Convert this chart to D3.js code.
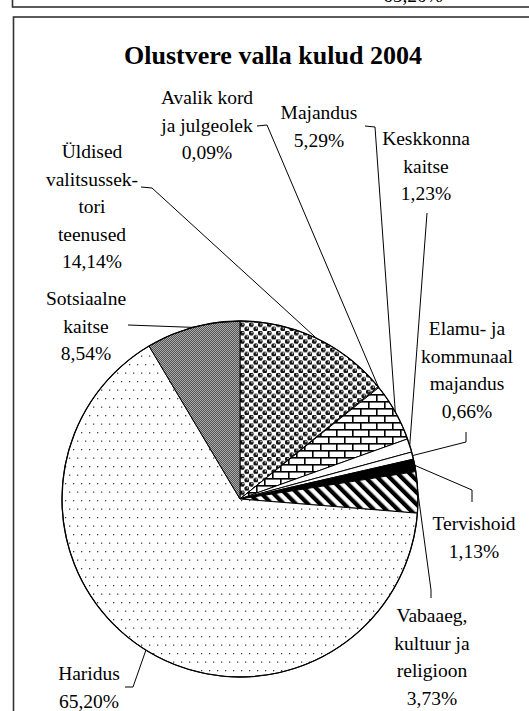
<!DOCTYPE html>
<html>
<head>
<meta charset="utf-8">
<script src="https://cdn.jsdelivr.net/npm/d3@7.9.0/dist/d3.min.js"></script>
<style>
  body { margin: 0; background: #fff; }
  svg { display: block; }
</style>
</head>
<body>
<svg id="chart" width="529" height="711"></svg>
<script>
const title = "Olustvere valla kulud 2004";
const categories = [
  "Üldised valitsussektori teenused", "Avalik kord ja julgeolek", "Majandus",
  "Keskkonna kaitse", "Elamu- ja kommunaalmajandus", "Tervishoid",
  "Vabaaeg, kultuur ja religioon", "Haridus", "Sotsiaalne kaitse"
];
const shares = [14.14, 0.09, 5.29, 1.23, 0.66, 1.13, 3.73, 65.20, 8.54];
const labelLines = [
  ["Üldised", "valitsussek-", "tori", "teenused"],
  ["Avalik kord", "ja julgeolek"],
  ["Majandus"],
  ["Keskkonna", "kaitse"],
  ["Elamu- ja", "kommunaal", "majandus"],
  ["Tervishoid"],
  ["Vabaaeg,", "kultuur ja", "religioon"],
  ["Haridus"],
  ["Sotsiaalne", "kaitse"]
];
// text cut off at the top edge, from the chart above this one
const prevChartTail = "65,20%";

// layout
const font = "'Liberation Serif', 'Times New Roman', Times, 'DejaVu Serif', serif";
const cx = 240, cy = 499, radius = 178;
const lineH = 27.6;
const labelAt = [
  { x: 92, y: 158, leader: [[141, 187], [152, 188]] },
  { x: 207, y: 104, leader: [[257, 126], [267, 125]] },
  { x: 319, y: 119, leader: [[365, 126], [375, 127]] },
  { x: 426, y: 145, leader: [[427, 213]] },
  { x: 467, y: 335, leader: [[466, 432], [466, 442]] },
  { x: 474, y: 530, leader: [[472, 502], [472, 490]] },
  { x: 432, y: 622, leader: [[431, 598], [431, 590]] },
  { x: 89, y: 680, leader: [[125, 687], [133, 687]] },
  { x: 86, y: 305, leader: [[128, 325]] }
];
const fills = ["url(#circ)", "#fff", "url(#brick)", "#fff", "#fff", "#000",
               "url(#stripe)", "url(#dots)", "url(#grey)"];

const svg = d3.select("#chart");
svg.append("rect").attr("width", 529).attr("height", 711).attr("fill", "#fff");

const defs = svg.append("defs");

// circles on white
let p = defs.append("pattern").attr("id", "circ").attr("patternUnits", "userSpaceOnUse")
  .attr("width", 9).attr("height", 8.4);
p.append("rect").attr("width", 9).attr("height", 8.4).attr("fill", "#fff");
[[2.25, 2.1], [6.75, 6.3]].forEach(([x, y]) => {
  p.append("circle").attr("cx", x).attr("cy", y).attr("r", 2.4).attr("fill", "#111");
  p.append("circle").attr("cx", x + 0.7).attr("cy", y - 0.7).attr("r", 0.8).attr("fill", "#ddd");
});

// bricks
p = defs.append("pattern").attr("id", "brick").attr("patternUnits", "userSpaceOnUse")
  .attr("width", 16).attr("height", 14);
p.append("rect").attr("width", 16).attr("height", 14).attr("fill", "#fff");
p.append("rect").attr("y", 0).attr("width", 16).attr("height", 1.6).attr("fill", "#000");
p.append("rect").attr("y", 7).attr("width", 16).attr("height", 1.6).attr("fill", "#000");
p.append("rect").attr("x", 0).attr("y", 0).attr("width", 1.6).attr("height", 7).attr("fill", "#000");
p.append("rect").attr("x", 8).attr("y", 7).attr("width", 1.6).attr("height", 7).attr("fill", "#000");

// diagonal stripes
p = defs.append("pattern").attr("id", "stripe").attr("patternUnits", "userSpaceOnUse")
  .attr("width", 8.5).attr("height", 8.5).attr("patternTransform", "rotate(-45)");
p.append("rect").attr("width", 8.5).attr("height", 8.5).attr("fill", "#fff");
p.append("rect").attr("width", 4.2).attr("height", 8.5).attr("fill", "#000");

// sparse dots
p = defs.append("pattern").attr("id", "dots").attr("patternUnits", "userSpaceOnUse")
  .attr("width", 8).attr("height", 17);
p.append("rect").attr("width", 8).attr("height", 17).attr("fill", "#fff");
p.append("rect").attr("x", 1).attr("y", 1).attr("width", 1.3).attr("height", 1.3).attr("fill", "#444");
p.append("rect").attr("x", 5).attr("y", 9.5).attr("width", 1.3).attr("height", 1.3).attr("fill", "#444");

// fine grey
p = defs.append("pattern").attr("id", "grey").attr("patternUnits", "userSpaceOnUse")
  .attr("width", 2).attr("height", 2);
p.append("rect").attr("width", 2).attr("height", 2).attr("fill", "#aaa");
p.append("rect").attr("width", 1).attr("height", 1).attr("fill", "#555");
p.append("rect").attr("x", 1).attr("y", 1).attr("width", 1).attr("height", 1).attr("fill", "#555");

// frames
svg.append("rect").attr("x", 12.5).attr("y", -20).attr("width", 540).attr("height", 27)
  .attr("fill", "none").attr("stroke", "#333").attr("stroke-width", 1.6);
svg.append("text").attr("x", 413).attr("y", 2).attr("text-anchor", "middle")
  .attr("font-family", font).attr("font-size", 19.5).text(prevChartTail);
svg.append("rect").attr("x", 13.5).attr("y", 17).attr("width", 540).attr("height", 720)
  .attr("fill", "none").attr("stroke", "#333").attr("stroke-width", 1.6);

svg.append("text").attr("x", 273).attr("y", 64).attr("text-anchor", "middle")
  .attr("font-family", font).attr("font-size", 26).attr("font-weight", "bold").text(title);

const pie = d3.pie().sort(null).value(d => d)(shares);
const arc = d3.arc().innerRadius(0).outerRadius(radius);

const g = svg.append("g").attr("transform", `translate(${cx},${cy})`);
g.selectAll("path.slice").data(pie).join("path")
  .attr("class", "slice")
  .attr("d", arc)
  .attr("fill", (d, i) => fills[i])
  .attr("stroke", "#000").attr("stroke-width", 1);
g.append("circle").attr("r", radius).attr("fill", "none")
  .attr("stroke", "#000").attr("stroke-width", 1.3);

const fmt = v => d3.format(".2f")(v).replace(".", ",") + "%";

pie.forEach((d, i) => {
  const a = (d.startAngle + d.endAngle) / 2;
  const edge = [cx + radius * Math.sin(a), cy - radius * Math.cos(a)];
  const pts = labelAt[i].leader.concat([edge]);
  svg.append("path")
    .attr("d", d3.line()(pts))
    .attr("fill", "none").attr("stroke", "#000").attr("stroke-width", 1);

  const lines = labelLines[i].concat([fmt(shares[i])]);
  const t = svg.append("text").attr("text-anchor", "middle")
    .attr("font-family", font).attr("font-size", 19.5);
  lines.forEach((s, k) => {
    t.append("tspan").attr("x", labelAt[i].x).attr("y", labelAt[i].y + k * lineH).text(s);
  });
});
</script>
</body>
</html>
